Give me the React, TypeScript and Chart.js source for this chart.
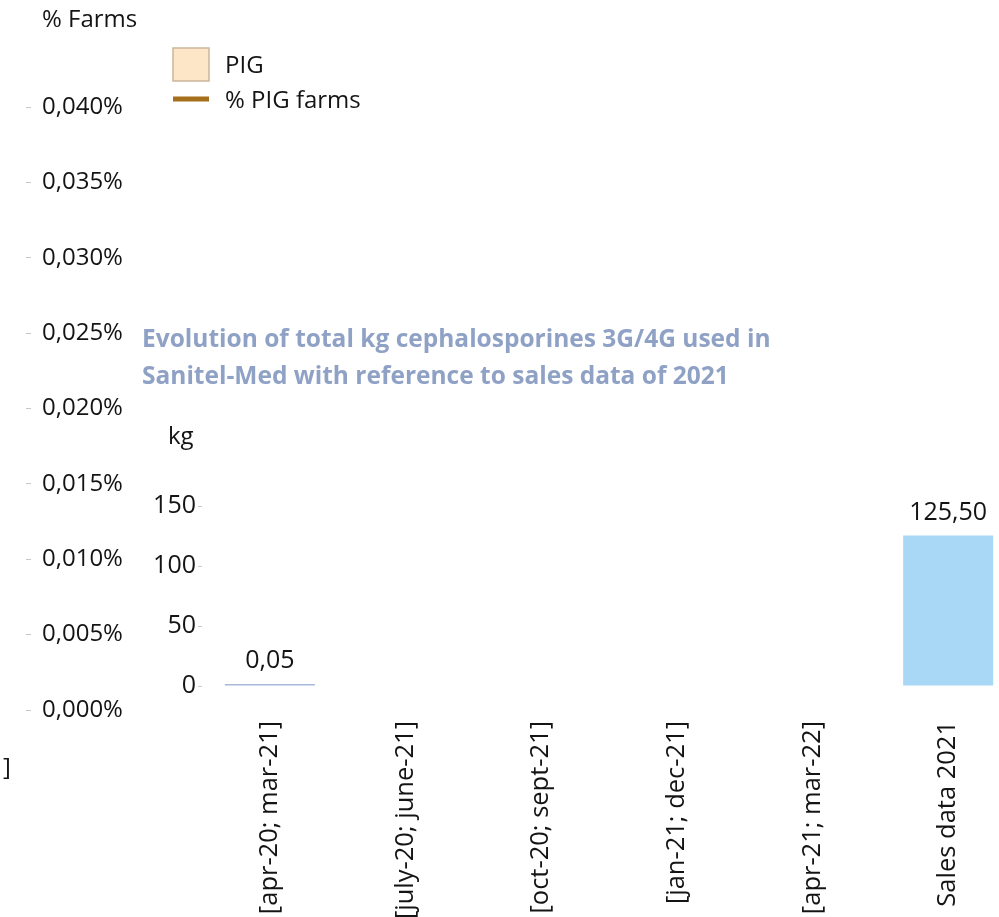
import React, { useEffect, useRef } from "react";
import { Chart, registerables } from "chart.js";

Chart.register(...registerables);

const FONT = "'Open Sans', 'Noto Sans', sans-serif";
const TEXT = "#141414";

// ---------- outer chart: % farms ----------
const farmAxisTitle = "% Farms";
const farmCategories: string[] = [""];
const pigSeriesLabel = "PIG";
const pigFarmsSeriesLabel = "% PIG farms";
const pigValues: (number | null)[] = [null];
const pigFarmPctValues: (number | null)[] = [null];
const farmAxisMin = 0;
const farmAxisMax = 0.0004;
const farmAxisStep = 0.00005;
const cutLabelFragment = "]";

// ---------- inner chart: kg ----------
const kgTitle = [
  "Evolution of total kg cephalosporines 3G/4G used in",
  "Sanitel-Med with reference to sales data of 2021",
];
const kgAxisTitle = "kg";
const kgCategories = [
  "[apr-20; mar-21]",
  "[july-20; june-21]",
  "[oct-20; sept-21]",
  "[jan-21; dec-21]",
  "[apr-21; mar-22]",
  "Sales data 2021",
];
const kgValues: (number | null)[] = [0.05, null, null, null, null, 125.5];
const kgBarColors = ["#A7B8D9", "#A7B8D9", "#A7B8D9", "#A7B8D9", "#A7B8D9", "#A9D8F7"];
const kgAxisMin = 0;
const kgAxisMax = 150;
const kgAxisStep = 50;

const fmtComma = (v: number, d: number) => v.toFixed(d).replace(".", ",");

export default function App() {
  const outerRef = useRef<HTMLCanvasElement>(null);
  const innerRef = useRef<HTMLCanvasElement>(null);

  useEffect(() => {
    const outerDecor = {
      id: "outerDecor",
      afterDraw(chart: any) {
        const ctx = chart.ctx;
        ctx.save();
        ctx.fillStyle = TEXT;
        ctx.font = `24px ${FONT}`;
        ctx.textAlign = "left";
        ctx.textBaseline = "middle";
        ctx.fillText(farmAxisTitle, 42, 20);
        ctx.fillText(cutLabelFragment, 3, 768);
        // legend
        const ds = chart.data.datasets;
        const lx = 173;
        ctx.fillStyle = ds[0].backgroundColor;
        ctx.fillRect(lx, 48, 36, 33);
        ctx.strokeStyle = ds[0].borderColor;
        ctx.lineWidth = 1.5;
        ctx.strokeRect(lx, 48, 36, 33);
        ctx.fillStyle = TEXT;
        ctx.fillText(ds[0].label, 225, 66);
        ctx.strokeStyle = ds[1].borderColor;
        ctx.lineWidth = 5;
        ctx.beginPath();
        ctx.moveTo(lx, 99);
        ctx.lineTo(lx + 36, 99);
        ctx.stroke();
        ctx.fillText(ds[1].label, 225, 101);
        ctx.restore();
      },
    };

    const outer = new Chart(outerRef.current!, {
      type: "bar",
      data: {
        labels: farmCategories,
        datasets: [
          {
            type: "bar",
            label: pigSeriesLabel,
            data: pigValues,
            backgroundColor: "#FDE6C8",
            borderColor: "#C9B69D",
            borderWidth: 1.5,
          } as any,
          {
            type: "line",
            label: pigFarmsSeriesLabel,
            data: pigFarmPctValues,
            borderColor: "#A66F1B",
            borderWidth: 5,
            pointRadius: 0,
          } as any,
        ],
      },
      options: {
        responsive: false,
        animation: false,
        layout: { padding: { left: 26, top: 107, bottom: 207, right: 0 } },
        plugins: {
          legend: { display: false },
          tooltip: { enabled: false },
          title: { display: false },
        },
        scales: {
          x: { display: false },
          y: {
            min: farmAxisMin,
            max: farmAxisMax,
            position: "left",
            afterFit: (s: any) => {
              s.width = 5;
            },
            ticks: {
              stepSize: farmAxisStep,
              mirror: true,
              padding: 11,
              color: TEXT,
              font: { family: FONT, size: 24 },
              callback: (v: any) => fmtComma(Number(v) * 100, 3) + "%",
            },
            grid: { drawOnChartArea: false, drawTicks: true, tickLength: 5, color: "#C8C8C8" },
            border: { display: false },
          },
        },
      } as any,
      plugins: [outerDecor],
    });

    const innerDecor = {
      id: "innerDecor",
      afterDatasetsDraw(chart: any) {
        const ctx = chart.ctx;
        const meta = chart.getDatasetMeta(0);
        ctx.save();
        ctx.fillStyle = TEXT;
        ctx.font = `25px ${FONT}`;
        ctx.textAlign = "center";
        ctx.textBaseline = "middle";
        meta.data.forEach((el: any, i: number) => {
          const v = chart.data.datasets[0].data[i];
          if (v === null || v === undefined) return;
          ctx.fillText(fmtComma(v, 2), el.x, el.y - 23);
        });
        const ys = chart.scales.y;
        ctx.textAlign = "left";
        ctx.font = `24px ${FONT}`;
        ctx.fillText(kgAxisTitle, ys.left + 26, 437);
        ctx.restore();
      },
    };

    const inner = new Chart(innerRef.current!, {
      type: "bar",
      data: {
        labels: kgCategories,
        datasets: [
          {
            label: "kg",
            data: kgValues,
            backgroundColor: kgBarColors,
            borderWidth: 0,
            minBarLength: 2,
            categoryPercentage: 1,
            barPercentage: 0.664,
          } as any,
        ],
      },
      options: {
        responsive: false,
        animation: false,
        layout: { padding: { left: 142, top: 322, right: 24, bottom: 0 } },
        plugins: {
          legend: { display: false },
          tooltip: { enabled: false },
          title: {
            display: true,
            text: kgTitle,
            align: "start",
            color: "#8FA2C6",
            font: { family: FONT, size: 24.5, weight: "bold", lineHeight: 37 / 24.5 },
            padding: { top: 0, bottom: 110 },
          },
        },
        scales: {
          x: {
            afterFit: (s: any) => {
              s.height = 231;
            },
            grid: { display: false },
            border: { display: false },
            ticks: {
              minRotation: 90,
              maxRotation: 90,
              autoSkip: false,
              padding: 27,
              color: TEXT,
              font: { family: FONT, size: 25.5 },
            },
          },
          y: {
            min: kgAxisMin,
            max: kgAxisMax,
            afterFit: (s: any) => {
              s.width = 60;
            },
            ticks: {
              stepSize: kgAxisStep,
              padding: 2,
              color: TEXT,
              font: { family: FONT, size: 25 },
            },
            grid: { drawOnChartArea: false, drawTicks: true, tickLength: 4, color: "#C8C8C8" },
            border: { display: false },
          },
        },
      } as any,
      plugins: [innerDecor],
    });

    return () => {
      outer.destroy();
      inner.destroy();
    };
  }, []);

  return (
    <div
      style={{
        position: "fixed",
        left: 0,
        top: 0,
        width: 999,
        height: 917,
        overflow: "hidden",
        background: "#ffffff",
      }}
    >
      <canvas
        ref={outerRef}
        width={999}
        height={917}
        style={{ position: "absolute", left: 0, top: 0, width: 999, height: 917 }}
      />
      <canvas
        ref={innerRef}
        width={1040}
        height={917}
        style={{ position: "absolute", left: 0, top: 0, width: 1040, height: 917 }}
      />
    </div>
  );
}
